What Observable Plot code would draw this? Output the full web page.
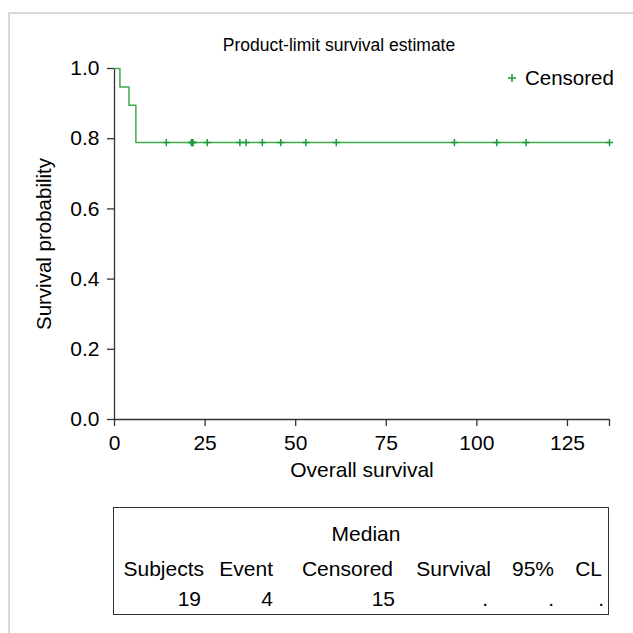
<!DOCTYPE html>
<html><head><meta charset="utf-8">
<script src="https://cdn.jsdelivr.net/npm/d3@7"></script>
<script src="https://cdn.jsdelivr.net/npm/@observablehq/plot@0.6"></script>
<style>
body{margin:0;background:#fff;font-family:"Liberation Sans",Arial,sans-serif;color:#000;}
#wrap{position:relative;width:633px;height:633px;overflow:hidden;background:#fff;}
#frame{position:absolute;left:8px;top:12px;width:700px;height:700px;border:2px solid #d9d9d9;box-sizing:border-box;}
#chart{position:absolute;left:0;top:0;}
.t{position:absolute;white-space:nowrap;line-height:1;}
#title{font-size:17.5px;top:37px;left:339px;transform:translateX(-50%);}
#legend{position:absolute;left:505px;top:66px;font-size:20.5px;display:flex;align-items:center;}
#table{position:absolute;left:113px;top:507px;width:496px;height:108px;border:1px solid #333;box-sizing:border-box;font-size:21px;}
</style></head>
<body>
<div id="wrap">
  <div id="frame"></div>
  <div id="chart"></div>
  <div class="t" id="title"></div>
  <div id="legend"></div>
  <div id="table"></div>
</div>
<script>
// ---- data ----
const stepTimes = [0, 1.5, 4.0, 5.9, 136.6];
const stepSurvival = [1.0, 0.947, 0.895, 0.789, 0.789];
const censorTimes = [14.3, 21.2, 21.6, 21.6, 25.6, 34.6, 36.3, 40.8, 45.9, 52.8, 61.2, 93.8, 105.5, 113.6, 136.6];
const censorSurvival = [0.789, 0.789, 0.789, 0.789, 0.789, 0.789, 0.789, 0.789, 0.789, 0.789, 0.789, 0.789, 0.789, 0.789, 0.789];
const xTicks = [0, 25, 50, 75, 100, 125];
const xAxisEnd = 136.6;
const yTicks = [0, 0.2, 0.4, 0.6, 0.8, 1.0];
const titleText = "Product-limit survival estimate";
const xLabel = "Overall survival";
const yLabel = "Survival probability";
const legendLabel = "Censored";
const tableTitle = "Median";
const tableHeaders = ["Subjects", "Event", "Censored", "Survival", "95%", "CL"];
const tableValues = ["19", "4", "15", ".", ".", "."];

const lineColor = "#3fab4d";
const markColor = "#1c9c3a";
const axisColor = "#333";
const font = "'Liberation Sans', Arial, sans-serif";

const steps = stepTimes.map((t, i) => ({t, s: stepSurvival[i]}));
const censored = censorTimes.map((t, i) => ({t, s: censorSurvival[i]}));

const plusSymbol = {
  draw(ctx, size) {
    const r = Math.sqrt(size / Math.PI);
    ctx.moveTo(-r, 0); ctx.lineTo(r, 0);
    ctx.moveTo(0, -r); ctx.lineTo(0, r);
  }
};

const chart = Plot.plot({
  width: 633,
  height: 480,
  marginLeft: 114,
  marginRight: 24,
  marginTop: 68,
  marginBottom: 61,
  style: {fontFamily: font, fontSize: "21px", color: "#000", background: "transparent"},
  x: {domain: [0, xAxisEnd], label: null},
  y: {domain: [0, 1], label: null},
  marks: [
    Plot.axisX({ticks: xTicks, tickSize: 7, tickPadding: 9, stroke: axisColor, strokeWidth: 1.3, fill: "#000", label: null, fontSize: 21}),
    Plot.axisX({ticks: [xAxisEnd], tickSize: 7, stroke: axisColor, strokeWidth: 1.3, tickFormat: () => "", label: null}),
    Plot.axisY({ticks: yTicks, tickSize: 7, tickPadding: 8, tickFormat: d3.format(".1f"), stroke: axisColor, strokeWidth: 1.3, fill: "#000", label: null, fontSize: 21}),
    Plot.ruleX([0], {stroke: axisColor, strokeWidth: 1.3}),
    Plot.ruleY([0], {stroke: axisColor, strokeWidth: 1.3}),
    Plot.line(steps, {x: "t", y: "s", curve: "step-after", stroke: lineColor, strokeWidth: 1.5}),
    Plot.dot(censored, {x: "t", y: "s", symbol: plusSymbol, r: 3.6, stroke: markColor, strokeWidth: 1.5, fill: "none"}),
    Plot.text([xLabel], {text: d => d, frameAnchor: "bottom", dy: 51, lineAnchor: "middle", fontSize: 21, fill: "#000"}),
    Plot.text([yLabel], {text: d => d, frameAnchor: "left", dx: -70, rotate: -90, lineAnchor: "middle", textAnchor: "middle", fontSize: 20.5, fill: "#000"})
  ]
});
document.getElementById("chart").appendChild(chart);

document.getElementById("title").textContent = titleText;

// legend
const lg = document.getElementById("legend");
lg.innerHTML = `<svg width="14" height="14" style="margin-right:6px"><path d="M3,7H11M7,3V11" stroke="${markColor}" stroke-width="1.5"/></svg><span>${legendLabel}</span>`;

// statistics table
const tb = document.getElementById("table");
const addText = (txt, left, top, anchor) => {
  const el = document.createElement("div");
  el.className = "t";
  el.textContent = txt;
  el.style.top = top + "px";
  if (anchor === "end") { el.style.right = (494 - left) + "px"; }
  else if (anchor === "middle") { el.style.left = left + "px"; el.style.transform = "translateX(-50%)"; }
  else { el.style.left = left + "px"; }
  tb.appendChild(el);
};
const headerRight = [90, 159, 279, 377, 440, 488];
const valueRight = [87, 159, 281, 374, 440, 490];
addText(tableTitle, 252, 15, "middle");
tableHeaders.forEach((h, i) => addText(h, headerRight[i], 50, "end"));
tableValues.forEach((v, i) => addText(v, valueRight[i], 80, "end"));
</script>
</body></html>
